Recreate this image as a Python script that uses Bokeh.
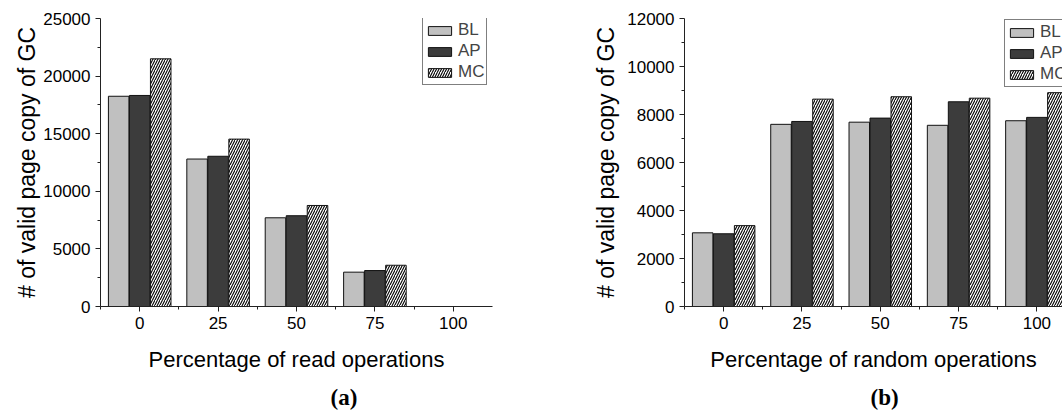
import numpy as np
from bokeh.plotting import figure
from bokeh.models import FixedTicker, Legend, LegendItem, Title, Range1d
from bokeh.layouts import row
from bokeh.embed import file_html
from bokeh.resources import INLINE

# ---------------- data ----------------
categories = ["0", "25", "50", "75", "100"]
series_names = ["BL", "AP", "MC"]

bl_read = [18250, 12800, 7700, 2980, 0]
ap_read = [18320, 13040, 7880, 3120, 0]
mc_read = [21500, 14530, 8770, 3580, 0]

bl_random = [3070, 7590, 7680, 7550, 7740]
ap_random = [3030, 7710, 7850, 8530, 7880]
mc_random = [3370, 8640, 8740, 8680, 8910]

y_label = "# of valid page copy of GC"
x_label_a = "Percentage of read operations"
x_label_b = "Percentage of random operations"

FONT = "Liberation Sans"
OFFSET = 0.268
BAR_W = 0.262


def make_fig(width, height, ymax, ystep, border_left, border_right, border_top,
             border_bottom, xend, xlabel, values, legend_loc, caption,
             caption_offset, ylabel_standoff):
    p = figure(width=width, height=height,
               x_range=Range1d(-0.5, xend), y_range=Range1d(0, ymax),
               output_backend="svg", toolbar_location=None,
               min_border_left=border_left, min_border_right=border_right,
               min_border_top=border_top, min_border_bottom=border_bottom)
    p.outline_line_color = None
    p.xgrid.grid_line_color = None
    p.ygrid.grid_line_color = None
    p.background_fill_color = "white"

    xs = np.arange(len(categories))
    styles = [
        dict(fill_color="#c0c0c0"),
        dict(fill_color="#3c3c3c"),
        dict(fill_color="white", hatch_pattern="/", hatch_color="black",
             hatch_scale=5, hatch_weight=1.1),
    ]
    items = []
    for i, (name, vals, st) in enumerate(zip(series_names, values, styles)):
        r = p.vbar(x=xs + (i - 1) * OFFSET, top=vals, bottom=0, width=BAR_W,
                   line_color="#111111", line_width=1, **st)
        items.append(LegendItem(label=name, renderers=[r]))

    leg = Legend(items=items, location=legend_loc,
                 label_text_font=FONT, label_text_font_size="17px",
                 glyph_width=29, glyph_height=11, label_height=18,
                 label_standoff=4, spacing=1, padding=2, margin=0,
                 border_line_color="black", border_line_width=1,
                 background_fill_alpha=1.0)
    p.add_layout(leg)

    p.xaxis.ticker = FixedTicker(ticks=list(xs),
                                 minor_ticks=[-0.5] + list(xs[:-1] + 0.5))
    p.xaxis.major_label_overrides = {int(i): c for i, c in zip(xs, categories)}
    p.yaxis.ticker = FixedTicker(ticks=list(range(0, ymax + 1, ystep)),
                                 minor_ticks=list(range(ystep // 2, ymax, ystep)))

    for ax in (p.xaxis[0], p.yaxis[0]):
        ax.axis_line_color = "#222222"
        ax.major_tick_line_color = "#222222"
        ax.minor_tick_line_color = "#222222"
        ax.major_tick_in = 0
        ax.major_tick_out = 5
        ax.minor_tick_in = 0
        ax.minor_tick_out = 3
        ax.major_label_text_font = FONT
        ax.major_label_text_font_size = "17px"
        ax.major_label_text_color = "black"
        ax.axis_label_text_font = FONT
        ax.axis_label_text_font_style = "normal"
        ax.axis_label_text_color = "black"
        ax.major_label_standoff = 5
    p.xaxis.axis_label = xlabel
    p.xaxis.axis_label_text_font_size = "22px"
    p.xaxis.axis_label_standoff = 15
    p.yaxis.axis_label = y_label
    p.yaxis.axis_label_text_font_size = "23px"
    p.yaxis.axis_label_standoff = ylabel_standoff
    p.yaxis.major_label_orientation = "horizontal"

    p.add_layout(Title(text=caption, align="left", offset=caption_offset,
                       text_font="Liberation Serif", text_font_size="23px",
                       text_font_style="bold", text_color="black",
                       standoff=16), "below")
    return p


p1 = make_fig(540, 417, 25000, 5000, 100, 48, 18, 108, 4.5, x_label_a,
              [bl_read, ap_read, mc_read], (322, 221), "(a)", 230, 0)
p2 = make_fig(522, 417, 12000, 2000, 144, 0, 18, 110, 4.327, x_label_b,
              [bl_random, ap_random, mc_random], (320, 219), "(b)", 186, 5)

layout = row(p1, p2)
open("out.html", "w").write(file_html(layout, INLINE))
